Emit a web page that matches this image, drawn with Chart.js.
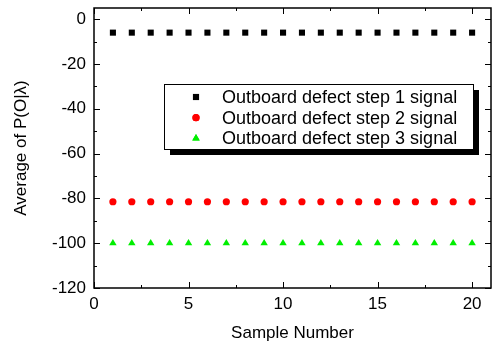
<!DOCTYPE html>
<html><head><meta charset="utf-8">
<script src="https://cdn.jsdelivr.net/npm/chart.js@4/dist/chart.umd.min.js"></script>
<style>html,body{margin:0;padding:0;background:#fff}#w{width:497px;height:341px}</style>
</head><body><div id="w"><canvas id="c" width="497" height="341"></canvas></div>
<script>
const sampleNumbers = [1,2,3,4,5,6,7,8,9,10,11,12,13,14,15,16,17,18,19,20];
const step1 = [-6,-6,-6,-6,-6,-6,-6,-6,-6,-6,-6,-6,-6,-6,-6,-6,-6,-6,-6,-6];
const step2 = [-81.5,-81.5,-81.5,-81.5,-81.5,-81.5,-81.5,-81.5,-81.5,-81.5,-81.5,-81.5,-81.5,-81.5,-81.5,-81.5,-81.5,-81.5,-81.5,-81.5];
const step3 = [-100,-100,-100,-100,-100,-100,-100,-100,-100,-100,-100,-100,-100,-100,-100,-100,-100,-100,-100,-100];
const seriesLabels = ['Outboard defect step 1 signal','Outboard defect step 2 signal','Outboard defect step 3 signal'];
const xTicks = [0,5,10,15,20];
const xMinorTicks = [2.5,7.5,12.5,17.5];
const yTicks = [-120,-100,-80,-60,-40,-20,0];
const yMinorTicks = [-110,-90,-70,-50,-30,-10];

const FONT = '"Liberation Sans", Arial, sans-serif';
const mk = (ys) => sampleNumbers.map((x,i)=>({x, y: ys[i]}));

const framePlugin = {
  id: 'frame',
  afterDatasetsDraw(chart) {
    const ctx = chart.ctx, a = chart.chartArea;
    const xs = chart.scales.x, ys = chart.scales.y;
    ctx.save();
    ctx.strokeStyle = '#000';
    ctx.lineWidth = 1;
    ctx.beginPath();
    const L = 6, S = 3;
    const vt = (v, len) => { const p = Math.round(xs.getPixelForValue(v)) + 0.5;
      ctx.moveTo(p, a.bottom); ctx.lineTo(p, a.bottom - len);
      ctx.moveTo(p, a.top); ctx.lineTo(p, a.top + len); };
    const ht = (v, len) => { const p = Math.round(ys.getPixelForValue(v)) + 0.5;
      ctx.moveTo(a.left, p); ctx.lineTo(a.left + len, p);
      ctx.moveTo(a.right, p); ctx.lineTo(a.right - len, p); };
    xTicks.forEach(v => vt(v, L)); xMinorTicks.forEach(v => vt(v, S));
    yTicks.forEach(v => ht(v, L)); yMinorTicks.forEach(v => ht(v, S));
    ctx.stroke();
    ctx.lineWidth = 1.5;
    ctx.strokeRect(a.left, a.top, a.right - a.left, a.bottom - a.top);

    // legend box with shadow
    const bx = 164, by = 84, bw = 309, bh = 65;
    ctx.fillStyle = '#000';
    ctx.fillRect(bx + 6, by + 6, bw, bh);
    ctx.fillStyle = '#fff';
    ctx.fillRect(bx, by, bw, bh);
    ctx.lineWidth = 1;
    ctx.strokeStyle = '#000';
    ctx.strokeRect(bx + 0.5, by + 0.5, bw, bh);
    ctx.font = '18px ' + FONT;
    ctx.textBaseline = 'middle';
    ctx.textAlign = 'left';
    chart.data.datasets.forEach((ds, i) => {
      const yy = 97 + i * 20.7;
      ctx.fillStyle = ds.backgroundColor;
      ctx.beginPath();
      Chart.helpers.drawPoint(ctx, {pointStyle: ds.pointStyle, radius: ds.pointRadius, borderWidth: 0}, 196, yy);
      ctx.fill();
      ctx.fillStyle = '#000';
      ctx.fillText(ds.label, 222, yy + 1);
    });
    ctx.restore();
  }
};

new Chart(document.getElementById('c'), {
  type: 'scatter',
  data: {
    datasets: [
      {label: seriesLabels[0], data: mk(step1), pointStyle: 'rect', pointRadius: 4.3, backgroundColor: '#000', borderWidth: 0},
      {label: seriesLabels[1], data: mk(step2), pointStyle: 'circle', pointRadius: 3.6, backgroundColor: '#ff0000', borderWidth: 0},
      {label: seriesLabels[2], data: mk(step3), pointStyle: 'triangle', pointRadius: 4.3, backgroundColor: '#00ee00', borderWidth: 0}
    ]
  },
  options: {
    responsive: false,
    animation: false,
    devicePixelRatio: 1,
    layout: {padding: {left: 0, top: 8, right: 6, bottom: 0}},
    plugins: {legend: {display: false}, tooltip: {enabled: false}},
    scales: {
      x: {
        type: 'linear', min: 0, max: 21,
        afterBuildTicks: s => { s.ticks = xTicks.map(v => ({value: v})); },
        afterFit: s => { s.height = 53; s.paddingLeft = 0; s.paddingRight = 0; },
        grid: {display: false, drawTicks: false},
        border: {display: false},
        ticks: {color: '#000', font: {family: FONT, size: 17}, padding: 6, maxRotation: 0},
        title: {display: true, text: 'Sample Number', color: '#000', font: {family: FONT, size: 17}, padding: {top: 6, bottom: -3}}
      },
      y: {
        type: 'linear', min: -120, max: 5,
        afterBuildTicks: s => { s.ticks = yTicks.map(v => ({value: v})); },
        afterFit: s => { s.width = 94; s.paddingTop = 0; s.paddingBottom = 0; },
        grid: {display: false, drawTicks: false},
        border: {display: false},
        ticks: {color: '#000', font: {family: FONT, size: 17}, padding: 8},
        title: {display: true, text: 'Average of P(O|λ)', color: '#000', font: {family: FONT, size: 17}, padding: {top: 11, bottom: 0}}
      }
    }
  },
  plugins: [framePlugin]
});
</script></body></html>
